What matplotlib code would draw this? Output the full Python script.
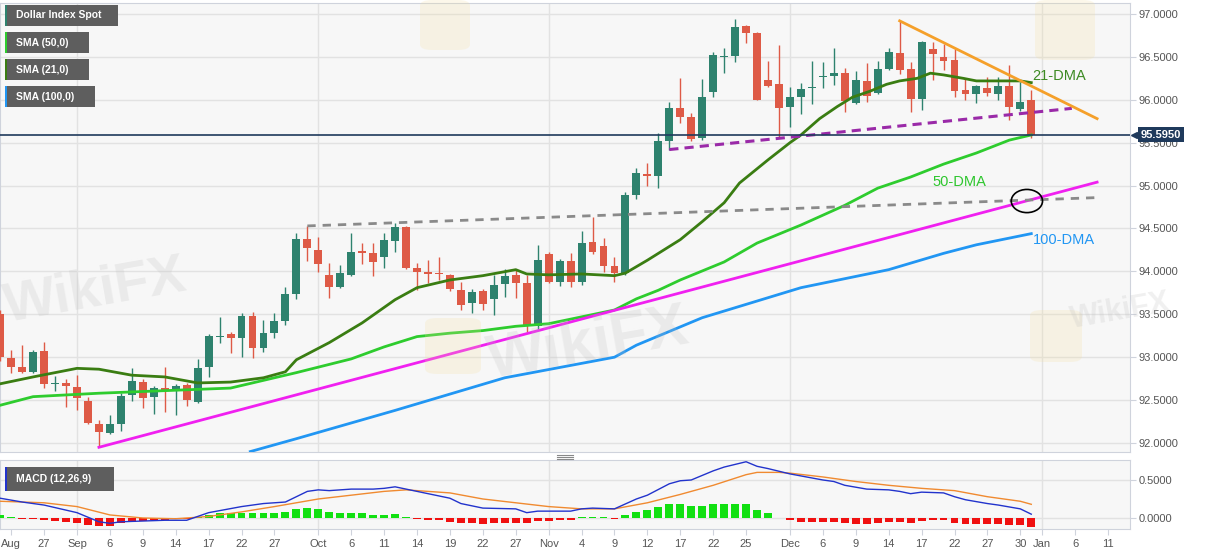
import numpy as np
import matplotlib.pyplot as plt
from matplotlib.transforms import blended_transform_factory
from matplotlib.patches import Ellipse, Rectangle, FancyBboxPatch
from matplotlib.lines import Line2D

plt.rcParams['font.family'] = ['Liberation Sans', 'DejaVu Sans']

# trading-day index, 0 = 1 Sep 2021, runs from 23 Aug to 31 Dec
day = np.arange(-7, 88)

opens = [93.50, 92.99, 92.89, 92.83, 93.07, 92.69, 92.70, 92.65, 92.49, 92.22,
         92.12, 92.22, 92.56, 92.71, 92.54, 92.64, 92.62, 92.68, 92.48, 92.89,
         93.23, 93.27, 93.22, 93.48, 93.11, 93.28, 93.42, 93.74, 94.38, 94.25,
         93.96, 93.82, 93.96, 94.24, 94.21, 94.17, 94.35, 94.52, 94.04, 93.99,
         93.98, 93.96, 93.78, 93.63, 93.77, 93.68, 93.85, 93.96, 93.86, 93.36,
         94.20, 93.88, 94.12, 93.88, 94.34, 94.30, 94.06, 93.98, 94.89, 95.13,
         95.11, 95.52, 95.90, 95.80, 95.55, 96.09, 96.50, 96.51, 96.86, 96.78,
         96.23, 96.18, 95.92, 96.03, 96.14, 96.27, 96.28, 96.31, 95.96, 96.22,
         96.08, 96.36, 96.55, 96.36, 96.01, 96.59, 96.50, 96.46, 96.11, 96.07,
         96.14, 96.07, 96.16, 95.89, 96.00]
highs = [93.55, 93.08, 93.14, 93.08, 93.18, 92.78, 92.75, 92.79, 92.54, 92.27,
         92.33, 92.58, 92.87, 92.75, 92.66, 92.89, 92.69, 92.70, 92.98, 93.27,
         93.47, 93.29, 93.52, 93.53, 93.43, 93.51, 93.82, 94.45, 94.53, 94.40,
         94.10, 94.07, 94.45, 94.33, 94.33, 94.45, 94.56, 94.53, 94.10, 94.13,
         94.17, 93.97, 93.88, 93.79, 93.79, 93.96, 94.03, 94.02, 93.96, 94.31,
         94.23, 94.14, 94.21, 94.47, 94.63, 94.39, 94.17, 94.92, 95.21, 95.26,
         95.61, 95.97, 96.25, 95.85, 96.24, 96.56, 96.60, 96.94, 96.87, 96.79,
         96.45, 96.64, 96.15, 96.19, 96.45, 96.44, 96.60, 96.37, 96.34, 96.43,
         96.45, 96.60, 96.92, 96.44, 96.68, 96.67, 96.65, 96.59, 96.25, 96.17,
         96.27, 96.27, 96.41, 96.21, 96.11]
lows = [92.95, 92.82, 92.82, 92.82, 92.64, 92.61, 92.42, 92.38, 92.22, 91.95,
        92.10, 92.14, 92.49, 92.41, 92.34, 92.36, 92.33, 92.43, 92.47, 92.77,
        93.17, 93.05, 93.00, 92.99, 93.06, 93.22, 93.38, 93.68, 94.12, 93.99,
        93.69, 93.81, 93.95, 94.09, 93.95, 94.04, 94.23, 94.03, 93.78, 93.86,
        93.90, 93.77, 93.55, 93.52, 93.55, 93.49, 93.70, 93.69, 93.29, 93.33,
        93.87, 93.83, 93.82, 93.84, 94.20, 93.99, 93.88, 93.96, 94.84, 94.99,
        94.97, 95.42, 95.73, 95.52, 95.53, 96.03, 96.31, 96.44, 96.66, 96.00,
        96.15, 95.57, 95.68, 95.83, 95.95, 96.14, 96.17, 95.86, 95.95, 95.97,
        96.07, 96.35, 96.30, 95.86, 95.88, 96.23, 96.35, 96.03, 96.00, 95.96,
        96.04, 96.00, 95.76, 95.87, 95.56]
closes = [93.00, 92.89, 92.83, 93.06, 92.69, 92.70, 92.66, 92.52, 92.23, 92.13,
          92.22, 92.55, 92.72, 92.52, 92.64, 92.62, 92.67, 92.50, 92.87, 93.25,
          93.25, 93.22, 93.48, 93.11, 93.28, 93.42, 93.74, 94.38, 94.27, 94.09,
          93.82, 93.98, 94.23, 94.22, 94.11, 94.37, 94.52, 94.04, 93.99, 93.97,
          93.97, 93.79, 93.61, 93.76, 93.62, 93.84, 93.95, 93.86, 93.36, 94.13,
          93.88, 94.12, 93.88, 94.33, 94.23, 94.06, 93.98, 94.89, 95.15, 95.11,
          95.52, 95.90, 95.80, 95.54, 96.03, 96.52, 96.51, 96.85, 96.78, 96.00,
          96.16, 95.90, 96.03, 96.13, 96.15, 96.28, 96.31, 95.99, 96.23, 96.04,
          96.36, 96.56, 96.35, 96.01, 96.67, 96.53, 96.45, 96.10, 96.07, 96.16,
          96.08, 96.16, 95.92, 95.97, 95.595]
last_price = 95.595

# moving averages (trading-day index, level)
sma21_day = [-7, -4, 0, 2, 5, 8, 11, 14, 17, 19, 20, 23, 26, 29, 31, 34, 37, 40, 41, 43,
             46, 49, 50, 52, 55, 57, 59, 60.4, 63, 65, 66, 67.7, 69.3, 70.7, 72.3, 73.8,
             75, 76.6, 77.8, 79, 80.8, 82, 86, 87]
sma21_val = [92.69, 92.77, 92.87, 92.86, 92.79, 92.77, 92.70, 92.71, 92.76, 92.83, 92.97,
             93.17, 93.40, 93.67, 93.81, 93.90, 93.95, 94.02, 93.97, 93.96, 93.97, 93.95,
             93.98, 94.13, 94.37, 94.58, 94.80, 95.03, 95.30, 95.50, 95.59, 95.78, 95.92,
             96.03, 96.10, 96.18, 96.22, 96.25, 96.31, 96.29, 96.25, 96.22, 96.22, 96.20]
sma50_day = [-7, -4, 2, 8, 14, 20, 25, 28, 31, 34, 37, 40, 43, 46, 49, 51, 53, 55,
             59, 62, 66, 70, 73, 76, 79, 82, 85, 87]
sma50_val = [92.44, 92.54, 92.58, 92.61, 92.64, 92.82, 92.98, 93.12, 93.24, 93.28, 93.31,
             93.36, 93.39, 93.47, 93.55, 93.68, 93.78, 93.90, 94.11, 94.33, 94.54, 94.77,
             94.97, 95.10, 95.25, 95.38, 95.53, 95.59]
sma100_day = [15.8, 20, 29, 39, 49, 51, 57, 66, 74, 79, 82, 87]
sma100_val = [91.90, 92.05, 92.38, 92.76, 93.00, 93.14, 93.46, 93.81, 94.02, 94.21,
              94.31, 94.44]

# MACD (12,26,9)
macd_day = [-7, -5, -3, 0, 2, 3, 4, 6, 8, 10, 12, 15, 17, 19, 21, 22, 23, 25, 27, 28,
            29, 31, 34, 35, 37, 40, 41, 42, 43, 45, 46, 47, 49, 51, 52, 54, 55, 56, 58,
            59, 61, 62, 63, 65, 68, 69, 70, 72, 74, 75, 76, 77, 79, 80, 81, 83, 84, 86, 87]
macd_val = [0.26, 0.21, 0.17, 0.07, -0.05, -0.07, -0.05, -0.04, -0.03, -0.03, 0.07, 0.15,
            0.19, 0.21, 0.35, 0.37, 0.36, 0.38, 0.38, 0.39, 0.41, 0.35, 0.26, 0.19, 0.13,
            0.12, 0.07, 0.09, 0.09, 0.09, 0.12, 0.13, 0.12, 0.25, 0.30, 0.45, 0.49, 0.50,
            0.62, 0.67, 0.74, 0.68, 0.65, 0.58, 0.50, 0.48, 0.43, 0.38, 0.37, 0.35, 0.32,
            0.34, 0.33, 0.28, 0.24, 0.19, 0.17, 0.12, 0.05]
signal_day = [-7, -3, 0, 3, 6, 9, 12, 15, 18, 22, 25, 28, 30, 31, 34, 37, 40, 43, 46, 49,
              52, 55, 58, 61, 62, 64, 65, 68, 71, 74, 77, 80, 83, 86, 87]
signal_val = [0.22, 0.20, 0.15, 0.04, 0.00, -0.01, 0.02, 0.08, 0.15, 0.25, 0.30, 0.35, 0.37,
              0.36, 0.33, 0.25, 0.20, 0.15, 0.12, 0.12, 0.20, 0.31, 0.43, 0.57, 0.60, 0.60,
              0.59, 0.54, 0.48, 0.43, 0.39, 0.36, 0.28, 0.22, 0.18]
hist_val = [0.04, 0.01, -0.01, -0.01, -0.03, -0.04, -0.05, -0.06, -0.09, -0.10,
            -0.10, -0.07, -0.05, -0.04, -0.03, -0.02, -0.01, -0.01, 0.01, 0.04,
            0.06, 0.07, 0.07, 0.06, 0.06, 0.07, 0.08, 0.12, 0.13, 0.12,
            0.08, 0.07, 0.07, 0.06, 0.04, 0.04, 0.05, 0.01, -0.01, -0.03,
            -0.03, -0.05, -0.07, -0.07, -0.08, -0.07, -0.06, -0.06, -0.07, -0.04,
            -0.04, -0.02, -0.02, 0.01, 0.01, 0.01, -0.01, 0.04, 0.08, 0.11,
            0.14, 0.18, 0.19, 0.16, 0.16, 0.18, 0.18, 0.19, 0.18, 0.10,
            0.06, 0.0, -0.03, -0.05, -0.05, -0.05, -0.05, -0.07, -0.08, -0.08,
            -0.07, -0.05, -0.05, -0.07, -0.04, -0.03, -0.03, -0.06, -0.08, -0.08,
            -0.08, -0.08, -0.09, -0.09, -0.12]

# drawn trend lines: (day, level) end points
support_up = ([2, 93], [91.95, 95.04])
old_resist = ([21, 93], [94.53, 94.86])
week_support = ([54, 90.7], [95.42, 95.90])
falling_line = ([75, 93], [96.92, 95.78])

tick_days = [-6, -3, 0, 3, 6, 9, 12, 15, 18, 22, 25, 28, 31, 34, 37, 40, 43, 46, 49, 52,
             55, 58, 61, 65, 68, 71, 74, 77, 80, 83, 86, 88, 91, 94]
tick_text = ['Aug', '27', 'Sep', '6', '9', '14', '17', '22', '27', 'Oct', '6', '11', '14',
             '19', '22', '27', 'Nov', '4', '9', '12', '17', '22', '25', 'Dec', '6', '9',
             '14', '17', '22', '27', '30', 'Jan', '6', '11']
month_days = [0, 22, 43, 65, 88]

W, H = 1207, 555
fig = plt.figure(figsize=(W / 100, H / 100), dpi=100)
fig.patch.set_facecolor('white')

def px_box(x0, y0, x1, y1):
    return [x0 / W, 1 - y1 / H, (x1 - x0) / W, (y1 - y0) / H]

ax = fig.add_axes(px_box(0, 3, 1130, 452))
ax2 = fig.add_axes(px_box(0, 460, 1130, 529), sharex=ax)

up_col, dn_col = '#2e826e', '#de5a46'
for axis in (ax, ax2):
    axis.set_facecolor('#f7f7f7')
    for s in axis.spines.values():
        s.set_color('#cfd3dc')
    for m in month_days:
        axis.axvline(m, color='#e2e2e2', lw=1, zorder=0)
    axis.yaxis.tick_right()
    axis.tick_params(axis='y', colors='#cfd3dc', labelcolor='#555555', labelsize=8,
                     length=4, pad=2)

# faint watermarks behind the data
for x0, y0, sz in [(425, 318, 56), (1030, 310, 52), (1035, 0, 60), (420, 0, 50)]:
    fig.patches.append(FancyBboxPatch((x0 / W, 1 - (y0 + sz) / H), sz / W, sz / H,
                                      boxstyle='round,pad=0,rounding_size=0.01',
                                      transform=fig.transFigure, fc='#f3dfa0', ec='none',
                                      alpha=0.22, zorder=1))
for x, y, s in [(0.0, 0.42, 40), (0.40, 0.32, 44), (0.885, 0.41, 22)]:
    fig.text(x, y, 'WikiFX', fontsize=s, fontweight='bold', color='#bdbdbd',
             alpha=0.22, rotation=10, zorder=1)

# candles
o = np.array(opens); h = np.array(highs); l = np.array(lows); c = np.array(closes)
cols = np.where(c >= o, up_col, dn_col)
ax.vlines(day, l, h, colors=cols, lw=1, zorder=3)
ax.bar(day, np.maximum(np.abs(c - o), 0.012), bottom=np.minimum(o, c), width=0.72,
       color=cols, zorder=4)

ax.plot(sma100_day, sma100_val, color='#2196f3', lw=2, zorder=5)
ax.plot(sma50_day, sma50_val, color='#2ecc2e', lw=2, zorder=5)
ax.plot(sma21_day, sma21_val, color='#3a7d12', lw=2, zorder=5)

ax.plot(*support_up, color='#f020f0', lw=2, zorder=6)
ax.plot(*old_resist, color='#8a8a8a', lw=2, ls=(0, (3, 2.5)), zorder=6)
ax.plot(*week_support, color='#9a2aa8', lw=2.2, ls=(0, (3, 2)), zorder=6)
ax.plot(*falling_line, color='#f5a02a', lw=2, zorder=6)
ax.add_patch(Ellipse((86.6, 94.82), 2.85, 0.27, fill=False, ec='black', lw=1.2, zorder=7))

ax.axhline(last_price, color='#1f3a5c', lw=1.2, zorder=6)

ax.text(87.1, 96.28, '21-DMA', color='#3c8a22', fontsize=10.5, va='center', zorder=8)
ax.text(78.0, 95.04, '50-DMA', color='#2ec62e', fontsize=10.5, va='center', zorder=8)
ax.text(87.1, 94.37, '100-DMA', color='#2196f3', fontsize=10.5, va='center', zorder=8)

ax.set_xlim(-7.02, 96.0)
ax.set_ylim(91.895, 97.128)
yt = np.arange(92.0, 97.01, 0.5)
ax.set_yticks(yt)
ax.set_yticklabels([f'{v:.4f}' for v in yt])
for v in yt:
    ax.axhline(v, color='#e2e2e2', lw=1, zorder=0)
ax.tick_params(axis='x', length=0, labelbottom=False)

# last price tag
tr = blended_transform_factory(ax.transAxes, ax.transData)
ax.text(1.0095, last_price, '95.5950', transform=tr, color='white', fontsize=8,
        fontweight='bold', va='center', ha='left', zorder=10, clip_on=False,
        bbox=dict(boxstyle='square,pad=0.25', fc='#1f3a5c', ec='none'))
ax.plot([1.0035], [last_price], marker='<', ms=5, color='#1f3a5c', transform=tr,
        clip_on=False, zorder=10)

# MACD panel
hv = np.array(hist_val)
ax2.bar(day, hv, width=0.72, color=np.where(hv >= 0, '#11e011', '#f01010'), zorder=3)
ax2.plot(signal_day, signal_val, color='#f08a30', lw=1, zorder=4)
ax2.plot(macd_day, macd_val, color='#2233cc', lw=1, zorder=5)
ax2.set_ylim(-0.145, 0.763)
ax2.set_yticks([0.0, 0.5])
ax2.set_yticklabels(['0.0000', '0.5000'])
for v in (0.0, 0.5):
    ax2.axhline(v, color='#e2e2e2', lw=1, zorder=0)
ax2.set_xticks(tick_days)
ax2.set_xticklabels(tick_text)
ax2.tick_params(axis='x', colors='#cfd3dc', labelcolor='#555555', labelsize=8,
                length=4, pad=3)

# legend chips
def chip(x0, y0, w, h, label, stripe):
    fig.patches.append(Rectangle((x0 / W, 1 - (y0 + h) / H), w / W, h / H,
                                 transform=fig.transFigure, fc='#5e5e5e', ec='none',
                                 zorder=20))
    fig.patches.append(Rectangle((x0 / W, 1 - (y0 + h) / H), 2 / W, h / H,
                                 transform=fig.transFigure, fc=stripe, ec='none',
                                 zorder=21))
    fig.text((x0 + 11) / W, 1 - (y0 + h / 2) / H, label, color='white', fontsize=7.5,
             fontweight='bold', va='center', ha='left', zorder=22)

chip(5, 5, 113, 21, 'Dollar Index Spot', '#2e826e')
chip(5, 32, 84, 21, 'SMA (50,0)', '#2ecc2e')
chip(5, 59, 84, 21, 'SMA (21,0)', '#3a7d12')
chip(5, 86, 90, 21, 'SMA (100,0)', '#2196f3')
chip(5, 467, 109, 24, 'MACD (12,26,9)', '#2233cc')

# panel splitter
for yy in (454.5, 456.5, 458.5):
    fig.add_artist(Line2D([557 / W, 573 / W], [1 - yy / H, 1 - yy / H], color='#888888',
                          lw=0.8, transform=fig.transFigure))

fig.savefig('out.png', dpi=100)
